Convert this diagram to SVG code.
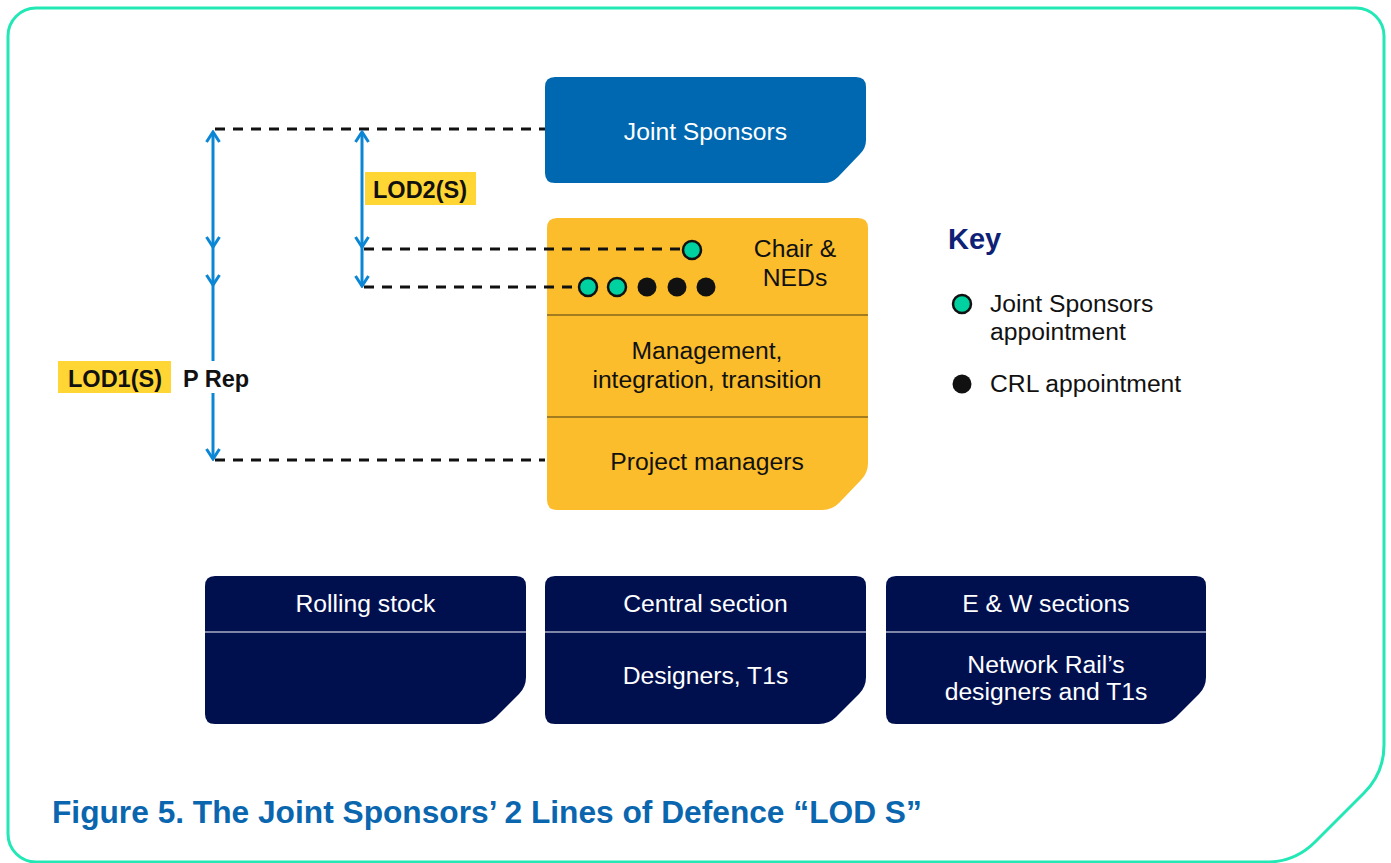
<svg xmlns="http://www.w3.org/2000/svg" width="1391" height="863" viewBox="0 0 1391 863">
  <style>
    .txt { font-family: "Liberation Sans", Arial, Helvetica, sans-serif; font-size: 24.7px; }
    .bold { font-weight: bold; font-size: 23.5px; }
    .dark { fill: #111111; }
    .light { fill: #ffffff; }
    .mid { text-anchor: middle; }
    .dash { fill: none; stroke: #111111; stroke-width: 3; stroke-dasharray: 10 8; }
    .arrow { fill: none; stroke: #0a86d4; stroke-width: 3; }
    .tag { fill: #ffd633; }
    .sponsor { fill: #00d1a0; stroke: #111111; stroke-width: 2.5; }
    .crl { fill: #111111; }
    .rule-y { stroke: #4a3c12; stroke-width: 1.2; }
    .rule-n { stroke: #a9adc4; stroke-width: 1.5; }
  </style>
  <defs>
    <marker id="chev" viewBox="-12 -8 14 16" refX="0" refY="0" markerWidth="14" markerHeight="16" markerUnits="userSpaceOnUse" orient="auto-start-reverse">
      <path d="M-10,-6.5 L0,0 L-10,6.5" fill="none" stroke="#0a86d4" stroke-width="3"/>
    </marker>
  </defs>

  <rect width="1391" height="863" fill="#ffffff"/>

  <!-- outer frame with clipped bottom-right corner -->
  <path d="M36,8 H1356 A28,28 0 0 1 1384,36 V745 Q1384,773 1364,793 L1315,842 Q1295,862 1267,862 H36 A28,28 0 0 1 8,834 V36 A28,28 0 0 1 36,8 Z" fill="none" stroke="#22e8b5" stroke-width="3"/>

  <!-- Joint Sponsors -->
  <g id="joint-sponsors">
    <path d="M555,77 H856 Q866,77 866,87 V140 Q866,148 860,154 L838,177 Q832,183 824,183 H555 Q545,183 545,173 V87 Q545,77 555,77 Z" fill="#0068b0"/>
    <text class="txt light mid" x="705.5" y="140">Joint Sponsors</text>
  </g>

  <!-- CRL company block -->
  <g id="crl">
    <path d="M557,218 H858 Q868,218 868,228 V463 Q868,473 861,480 L839,503 Q832,510 822,510 H557 Q547,510 547,500 V228 Q547,218 557,218 Z" fill="#fbbd2b"/>
    <line class="rule-y" x1="547" y1="315" x2="868" y2="315"/>
    <line class="rule-y" x1="547" y1="417" x2="868" y2="417"/>
    <text class="txt dark mid" x="795" y="257">Chair &amp;</text>
    <text class="txt dark mid" x="795" y="286">NEDs</text>
    <text class="txt dark mid" x="707" y="359">Management,</text>
    <text class="txt dark mid" x="707" y="388">integration, transition</text>
    <text class="txt dark mid" x="707" y="470">Project managers</text>
  </g>

  <!-- key -->
  <g id="key">
    <text x="948" y="249" font-family="Liberation Sans, Arial, sans-serif" font-size="29" font-weight="bold" fill="#0d2277">Key</text>
    <circle class="sponsor" cx="962" cy="304" r="9"/>
    <text class="txt dark" x="990" y="312">Joint Sponsors</text>
    <text class="txt dark" x="990" y="340">appointment</text>
    <circle class="crl" cx="962" cy="384" r="9.5"/>
    <text class="txt dark" x="990" y="392">CRL appointment</text>
  </g>

  <!-- contractor blocks -->
  <g id="rolling-stock">
    <path d="M215,576 H516 Q526,576 526,586 V677 Q526,687 519,694 L496,717 Q489,724 479,724 H215 Q205,724 205,714 V586 Q205,576 215,576 Z" fill="#00104f"/>
    <line class="rule-n" x1="205" y1="632" x2="526" y2="632"/>
    <text class="txt light mid" x="365.5" y="612">Rolling stock</text>
  </g>
  <g id="central-section">
    <path d="M555,576 H856 Q866,576 866,586 V677 Q866,687 859,694 L836,717 Q829,724 819,724 H555 Q545,724 545,714 V586 Q545,576 555,576 Z" fill="#00104f"/>
    <line class="rule-n" x1="545" y1="632" x2="866" y2="632"/>
    <text class="txt light mid" x="705.5" y="612">Central section</text>
    <text class="txt light mid" x="705.5" y="684">Designers, T1s</text>
  </g>
  <g id="ew-sections">
    <path d="M896,576 H1196 Q1206,576 1206,586 V677 Q1206,687 1199,694 L1176,717 Q1169,724 1159,724 H896 Q886,724 886,714 V586 Q886,576 896,576 Z" fill="#00104f"/>
    <line class="rule-n" x1="886" y1="632" x2="1206" y2="632"/>
    <text class="txt light mid" x="1046" y="673">Network Rail’s</text>
    <text class="txt light mid" x="1046" y="700">designers and T1s</text>
    <text class="txt light mid" x="1046" y="612">E &amp; W sections</text>
  </g>

  <!-- connectors -->
  <g id="connectors">
    <path class="dash" d="M215,129 H545"/>
    <path class="dash" d="M364,249 H682"/>
    <path class="dash" d="M364,287 H580"/>
    <path class="dash" d="M215,460 H545"/>
    <!-- P Rep span -->
    <path class="arrow" d="M213,132 V247 V285" marker-start="url(#chev)" marker-mid="url(#chev)" marker-end="url(#chev)"/>
    <path class="arrow" d="M213,285 V361"/>
    <path class="arrow" d="M213,393 V459" marker-end="url(#chev)"/>
    <!-- board span -->
    <path class="arrow" d="M362,132 V247 V286" marker-start="url(#chev)" marker-mid="url(#chev)" marker-end="url(#chev)"/>
  </g>

  <!-- appointment dots on the board row -->
  <g id="board-seats">
    <circle class="sponsor" cx="692" cy="250" r="9"/>
    <circle class="sponsor" cx="588" cy="287" r="9"/>
    <circle class="sponsor" cx="617" cy="287" r="9"/>
    <circle class="crl" cx="647" cy="287" r="9.5"/>
    <circle class="crl" cx="677" cy="287" r="9.5"/>
    <circle class="crl" cx="706" cy="287" r="9.5"/>
  </g>

  <!-- line-of-defence labels -->
  <g id="lod2">
    <rect class="tag" x="365" y="172" width="111" height="33"/>
    <text class="txt bold dark" x="373" y="198">LOD2(S)</text>
  </g>
  <g id="lod1">
    <rect class="tag" x="58" y="361" width="113" height="32"/>
    <text class="txt bold dark" x="68" y="387">LOD1(S)</text>
    <text class="txt bold dark" x="183" y="387">P Rep</text>
  </g>

  <text x="52" y="823" font-family="Liberation Sans, Arial, sans-serif" font-size="31.7" font-weight="bold" fill="#0a66ae">Figure 5. The Joint Sponsors’ 2 Lines of Defence “LOD S”</text>
</svg>
